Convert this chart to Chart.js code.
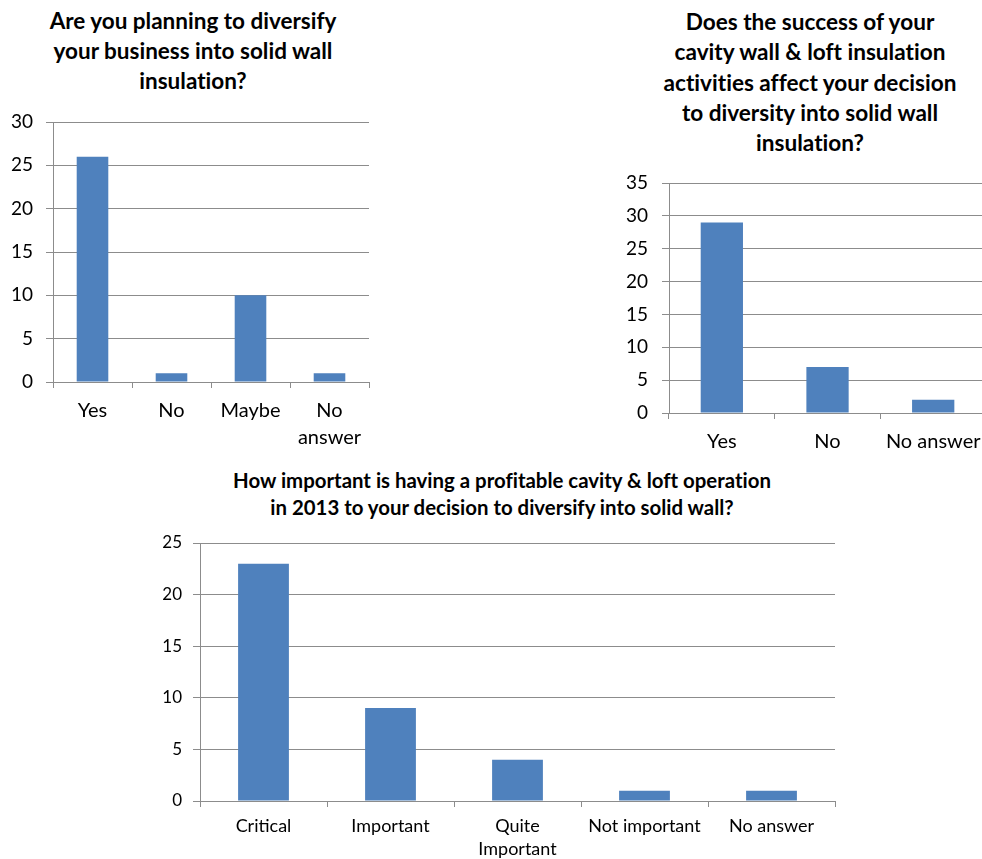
<!DOCTYPE html>
<html>
<head>
<meta charset="utf-8">
<script src="https://cdn.jsdelivr.net/npm/chart.js@4/dist/chart.umd.min.js"></script>
<style>
  html, body { margin: 0; padding: 0; background: #fff; overflow: hidden; }
  body { width: 982px; height: 859px; position: relative; font-family: Lato, sans-serif; }
  .box { position: absolute; }
  .title { position: absolute; text-align: center; font-weight: bold; color: #000; white-space: nowrap; font-variant-ligatures: none; }
</style>
</head>
<body>
<div class="title" id="t1" style="left:0;top:6px;width:386px;font-size:22.5px;line-height:30px;">Are you planning to diversify<br>your business into solid wall<br>insulation?</div>
<div class="title" id="t2" style="left:640px;top:7px;width:340px;font-size:22.6px;line-height:30.3px;">Does the success of your<br>cavity wall &amp; loft insulation<br>activities affect your decision<br>to diversity into solid wall<br>insulation?</div>
<div class="title" id="t3" style="left:200px;top:467px;width:604px;font-size:20.4px;line-height:27px;">How important is having a profitable cavity &amp; loft operation<br>in 2013 to your decision to diversify into solid wall?</div>

<div class="box" style="left:0;top:110px;width:385px;height:345px;"><canvas id="chart1"></canvas></div>
<div class="box" style="left:590px;top:170px;width:400px;height:290px;"><canvas id="chart2"></canvas></div>
<div class="box" style="left:140px;top:530px;width:720px;height:329px;"><canvas id="chart3"></canvas></div>

<script>
// survey answers per question
const planCategories = ['Yes', 'No', 'Maybe', ['No', 'answer']];
const planCounts = [26, 1, 10, 1];
const planTicks = [0, 5, 10, 15, 20, 25, 30];

const successCategories = ['Yes', 'No', 'No answer'];
const successCounts = [29, 7, 2];
const successTicks = [0, 5, 10, 15, 20, 25, 30, 35];

const profitCategories = ['Critical', 'Important', ['Quite', 'Important'], 'Not important', 'No answer'];
const profitCounts = [23, 9, 4, 1, 1];
const profitTicks = [0, 5, 10, 15, 20, 25];

const barColor = '#4F81BD';
const gridColor = '#8C8C8C';

function makeBarChart(id, labels, values, ticks, opts) {
  const ctx = document.getElementById(id).getContext('2d');
  return new Chart(ctx, {
    type: 'bar',
    data: {
      labels: labels,
      datasets: [{
        data: values,
        backgroundColor: barColor,
        borderWidth: 0,
        barPercentage: 0.4,
        categoryPercentage: 1.0
      }]
    },
    options: {
      responsive: true,
      maintainAspectRatio: false,
      animation: false,
      layout: { padding: opts.padding },
      plugins: {
        legend: { display: false },
        title: { display: false },
        tooltip: { enabled: false }
      },
      scales: {
        x: {
          offset: true,
          grid: {
            offset: true,
            drawOnChartArea: false,
            drawTicks: true,
            tickLength: 6,
            color: gridColor
          },
          border: { color: gridColor, width: 1 },
          ticks: {
            color: '#000',
            padding: opts.xPad,
            maxRotation: 0,
            autoSkip: false,
            font: { family: 'Lato', size: opts.fontSize, lineHeight: opts.lineHeight }
          },
          afterFit: function (scale) { scale.height = opts.xHeight; }
        },
        y: {
          min: 0,
          max: ticks[ticks.length - 1],
          afterBuildTicks: function (scale) {
            scale.ticks = ticks.map(v => ({ value: v }));
          },
          grid: {
            color: gridColor,
            tickLength: 7,
            drawTicks: true
          },
          border: { color: gridColor, width: 1 },
          ticks: {
            color: '#000',
            padding: opts.yPad,
            font: { family: 'Lato', size: opts.yFontSize }
          },
          afterFit: function (scale) {
            // fixed axis width; top/bottom spacing comes from layout padding only
            scale.width = opts.yWidth;
            scale.paddingTop = 0;
            scale.paddingBottom = 0;
          }
        }
      }
    }
  });
}

makeBarChart('chart1', planCategories, planCounts, planTicks, {
  padding: { top: 12, right: 16, left: 0, bottom: 0 },
  yWidth: 53, xHeight: 73, fontSize: 20, yFontSize: 19, lineHeight: 1.35, xPad: 9, yPad: 13
});

makeBarChart('chart2', successCategories, successCounts, successTicks, {
  padding: { top: 13, right: 3, left: 0, bottom: 0 },
  yWidth: 79, xHeight: 47, fontSize: 20, yFontSize: 19, lineHeight: 1.35, xPad: 9, yPad: 14
});

makeBarChart('chart3', profitCategories, profitCounts, profitTicks, {
  padding: { top: 13, right: 25, left: 0, bottom: 0 },
  yWidth: 60, xHeight: 58, fontSize: 18, yFontSize: 17, lineHeight: 1.3, xPad: 7, yPad: 11
});
</script>
</body>
</html>
